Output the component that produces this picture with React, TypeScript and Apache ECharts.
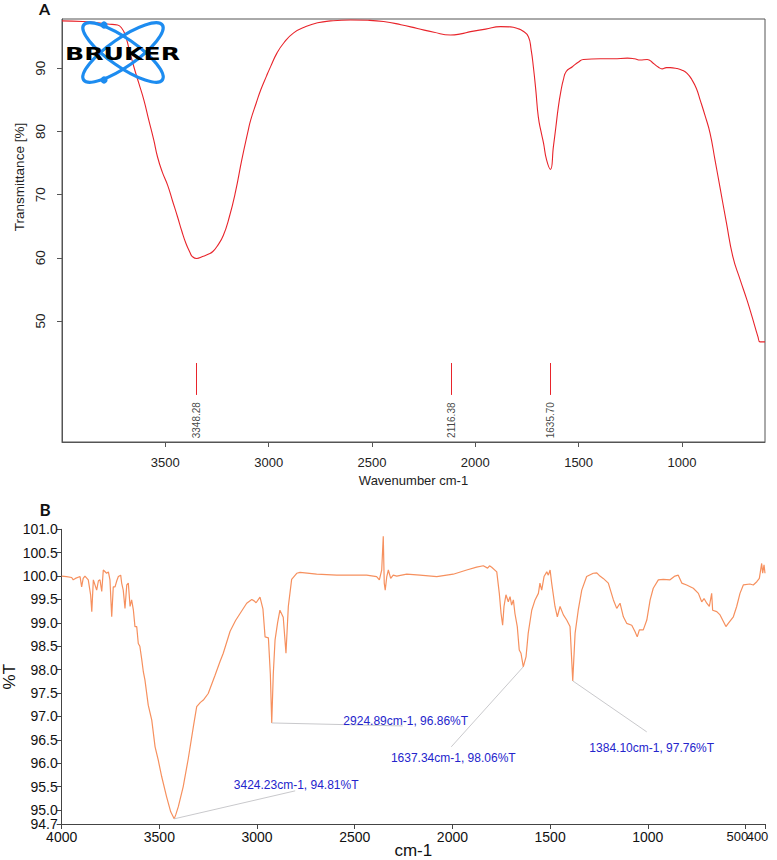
import React, { useEffect, useRef } from 'react';
import * as echarts from 'echarts';

// ---------- Panel A (Bruker spectrum) ----------
const waveA = [4000, 3900, 3828, 3780, 3731, 3710, 3694, 3675, 3652, 3628, 3604, 3580, 3556, 3538, 3515, 3489, 3465, 3441, 3420, 3401, 3380, 3369, 3348, 3320, 3290, 3270, 3250, 3220, 3190, 3160, 3130, 3100, 3087, 3060, 3038, 3010, 2990, 2960, 2927, 2879, 2820, 2763, 2700, 2603, 2520, 2444, 2360, 2280, 2200, 2120, 2070, 2023, 1950, 1878, 1830, 1796, 1770, 1743, 1730, 1719, 1707, 1695, 1682, 1670, 1655, 1636, 1622, 1610, 1598, 1585, 1574, 1560, 1530, 1500, 1477, 1395, 1330, 1264, 1230, 1202, 1168, 1139, 1115, 1096, 1075, 1057, 1030, 999, 975, 951, 930, 912, 888, 864, 840, 816, 785, 753, 720, 685, 660, 632, 622, 598];
const transA = [97.5, 97.4, 97.2, 97.0, 96.85, 96.3, 95.27, 93.0, 90.2, 87.6, 85.0, 81.8, 78.65, 76.0, 73.6, 71.5, 69.0, 66.5, 64.2, 62.35, 60.8, 60.2, 59.9, 60.2, 60.6, 61.0, 61.8, 63.5, 66.5, 70.5, 75.5, 80.0, 81.8, 84.5, 86.6, 88.8, 90.3, 92.4, 94.0, 95.6, 96.6, 97.2, 97.5, 97.65, 97.6, 97.4, 96.9, 96.3, 95.7, 95.27, 95.45, 95.8, 96.2, 96.6, 96.55, 96.3, 95.9, 95.0, 93.0, 90.25, 86.5, 82.3, 80.0, 78.2, 75.5, 74.0, 77.6, 80.7, 83.9, 86.5, 88.15, 89.5, 90.25, 91.0, 91.4, 91.5, 91.5, 91.6, 91.5, 91.3, 91.4, 90.8, 90.2, 89.9, 90.1, 90.1, 90.0, 89.7, 89.2, 88.15, 86.8, 85.0, 82.5, 79.75, 75.5, 71.2, 65.6, 60.1, 56.7, 53.3, 50.6, 47.5, 46.7, 46.7];
const peaksA = [3348.28, 2116.38, 1635.7];
const xTicksA = [3500, 3000, 2500, 2000, 1500, 1000];
const yTicksA = [50, 60, 70, 80, 90];

// ---------- Panel B (%T spectrum) ----------
const waveB = [4000, 3975, 3949, 3941, 3930, 3906, 3898, 3890, 3881, 3864, 3852, 3846, 3838, 3821, 3812, 3804, 3795, 3787, 3770, 3761, 3753, 3744, 3736, 3727, 3718, 3710, 3698, 3693, 3685, 3676, 3667, 3659, 3650, 3642, 3633, 3625, 3616, 3608, 3600, 3590, 3582, 3574, 3557, 3539, 3522, 3506, 3488, 3463, 3442, 3424.23, 3416, 3403, 3378, 3352, 3326, 3309, 3290, 3275, 3250, 3215, 3190, 3173, 3138, 3110, 3087, 3053, 3027, 3015, 3005, 2985, 2970, 2959, 2942, 2932, 2924.89, 2917, 2908, 2895, 2883, 2866, 2852, 2840, 2823, 2797, 2780, 2695, 2592, 2507, 2439, 2388, 2374, 2362, 2354, 2349, 2344, 2336, 2328, 2316, 2303, 2285, 2234, 2166, 2080, 1996, 1927, 1876, 1842, 1820, 1810, 1799, 1773, 1760, 1751, 1743, 1736, 1726, 1714, 1705, 1697, 1688, 1680, 1668, 1658, 1649, 1637.34, 1623, 1612, 1594, 1577, 1560, 1552, 1543, 1531, 1517, 1509, 1500, 1492, 1475, 1463, 1449, 1432, 1415, 1398, 1384.1, 1372, 1356, 1338, 1313, 1279, 1261, 1245, 1228, 1202, 1176, 1159, 1142, 1125, 1108, 1082, 1065, 1054, 1043, 1023, 1005, 988, 972, 946, 921, 886, 861, 844, 826, 801, 767, 741, 724, 712, 698, 685, 673, 668, 647, 630, 613, 600, 588, 562, 545, 528, 511, 477, 460, 442, 429, 417, 412, 405, 400];
const transB = [100.0, 99.99, 99.97, 99.92, 99.95, 99.99, 99.77, 99.95, 100.0, 99.92, 99.6, 99.24, 99.92, 99.7, 99.9, 99.92, 99.67, 100.13, 100.06, 100.09, 99.92, 99.13, 99.77, 99.77, 99.9, 99.99, 100.02, 99.85, 99.7, 99.31, 99.81, 99.85, 99.35, 99.49, 99.27, 98.92, 98.92, 98.56, 98.5, 98.21, 97.95, 97.78, 97.24, 96.92, 96.35, 96.07, 95.71, 95.28, 94.96, 94.81, 94.9, 95.07, 95.5, 96.1, 96.78, 97.21, 97.3, 97.35, 97.49, 97.88, 98.17, 98.35, 98.82, 99.05, 99.2, 99.42, 99.5, 99.47, 99.43, 99.55, 99.3, 98.7, 98.68, 97.9, 96.86, 97.9, 98.63, 99.0, 99.27, 99.12, 98.35, 99.35, 99.93, 100.06, 100.08, 100.04, 100.02, 100.02, 100.02, 99.99, 99.92, 100.13, 100.85, 99.85, 99.7, 99.99, 100.13, 99.95, 100.02, 100.0, 100.04, 100.02, 99.99, 100.04, 100.13, 100.19, 100.22, 100.17, 100.22, 100.19, 100.09, 99.63, 99.2, 98.95, 99.35, 99.6, 99.45, 99.56, 99.38, 99.49, 99.2, 98.92, 98.42, 98.35, 98.06, 98.28, 98.78, 99.27, 99.49, 99.63, 99.85, 99.7, 99.99, 100.09, 100.02, 100.13, 99.85, 99.35, 99.13, 99.35, 99.17, 99.06, 98.92, 97.76, 98.78, 99.27, 99.7, 99.99, 100.06, 100.07, 100.0, 99.95, 99.85, 99.49, 99.31, 99.42, 99.13, 98.99, 98.95, 98.81, 98.7, 98.85, 98.85, 99.06, 99.49, 99.74, 99.92, 99.93, 99.92, 100.0, 100.02, 99.85, 99.81, 99.74, 99.63, 99.45, 99.52, 99.42, 99.35, 99.63, 99.27, 99.24, 99.17, 99.03, 98.92, 98.99, 99.13, 99.35, 99.63, 99.81, 99.83, 99.81, 99.88, 99.95, 100.27, 100.06, 100.24, 100.06];
const xTicksB = [4000, 3500, 3000, 2500, 2000, 1500, 1000, 400];
const xTicksBExtra = [500];
const yTicksB = [94.7, 95.0, 95.5, 96.0, 96.5, 97.0, 97.5, 98.0, 98.5, 99.0, 99.5, 100.0, 100.5, 101.0];
const peakWaveB = [3424.23, 2924.89, 1637.34, 1384.1];
const peakTB = [94.81, 96.86, 98.06, 97.76];

// layout offsets (pixels, relative to each peak) for annotation text centres and leader-line ends
const annTextOffset = [[122, -34], [134, -2], [-70, 91], [79, 67]];
const annLineEnd = [[121, -28], [131, 3], [-72, 80], [74, 51]];

const SANS = '"Liberation Sans", Arial, Helvetica, sans-serif';

export default function App() {
  const ref = useRef<HTMLDivElement>(null);

  useEffect(() => {
    document.body.style.margin = '0';
    if (!ref.current) return;
    const chart = echarts.init(ref.current, null, { renderer: 'svg' });

    const xAxisBBase = {
      gridIndex: 1, type: 'value', inverse: true, min: 400, max: 4000, position: 'bottom',
      splitLine: { show: false },
    };

    const option: any = {
      animation: false,
      backgroundColor: '#ffffff',
      grid: [
        { left: 62, top: 19, width: 703, height: 423, show: true, borderColor: '#555', borderWidth: 1, outerBoundsMode: 'none', containLabel: false },
        { left: 61.7, top: 529.3, width: 703.3, height: 294.7, outerBoundsMode: 'none', containLabel: false },
      ],
      xAxis: [
        {
          gridIndex: 0, type: 'value', inverse: true, min: 598, max: 4000,
          splitLine: { show: false },
          axisLine: { show: true, lineStyle: { color: '#555', width: 1 } },
          axisTick: { show: true, customValues: xTicksA, length: 5, lineStyle: { color: '#555' } },
          axisLabel: {
            customValues: xTicksA, margin: 14, fontSize: 13, color: '#222', fontFamily: SANS,
            formatter: (v: number) => String(v),
          },
          name: 'Wavenumber cm-1', nameLocation: 'middle', nameGap: 32, nameMoveOverlap: false,
          nameTextStyle: { fontSize: 13, color: '#222', fontFamily: SANS },
        },
        {
          ...xAxisBBase,
          axisLine: { show: true, lineStyle: { color: '#444', width: 1 } },
          axisTick: { show: true, customValues: xTicksB, length: 5, lineStyle: { color: '#444' } },
          axisLabel: {
            customValues: xTicksB, margin: 6, fontSize: 14, color: '#111', fontFamily: SANS,
            showMinLabel: true, showMaxLabel: true,
            formatter: (v: number) => (v === 400 ? '{b|400}' : String(v)),
            rich: {
              b: { fontSize: 13, color: '#111', fontFamily: SANS, padding: [0, 15, 0, 0] },
            },
          },
          name: 'cm-1', nameLocation: 'middle', nameGap: 18, nameMoveOverlap: false,
          nameTextStyle: { fontSize: 17, color: '#111', fontFamily: SANS },
        },
        {
          ...xAxisBBase,
          axisLine: { show: false },
          axisTick: { show: true, customValues: xTicksBExtra, length: 5, lineStyle: { color: '#444' } },
          axisLabel: {
            customValues: xTicksBExtra, margin: 6, fontSize: 14, color: '#111', fontFamily: SANS,
            formatter: (v: number) => `{a|${v}}`,
            rich: {
              a: { fontSize: 13, color: '#111', fontFamily: SANS, padding: [0, 16, 0, 0] },
            },
          },
        },
      ],
      yAxis: [
        {
          gridIndex: 0, type: 'value', min: 30.85, max: 97.8,
          splitLine: { show: false },
          axisLine: { show: true, lineStyle: { color: '#555', width: 1 } },
          axisTick: { show: true, customValues: yTicksA, length: 5, lineStyle: { color: '#555' } },
          axisLabel: { customValues: yTicksA, rotate: 90, margin: 15, fontSize: 13.5, color: '#222', fontFamily: SANS },
        },
        {
          gridIndex: 1, type: 'value', min: 94.7, max: 101,
          splitLine: { show: false },
          axisLine: { show: true, lineStyle: { color: '#444', width: 1 } },
          axisTick: { show: true, customValues: yTicksB, length: 5, lineStyle: { color: '#444' } },
          axisLabel: {
            customValues: yTicksB, margin: 4, fontSize: 14, color: '#111', fontFamily: SANS,
            formatter: (v: number) => v.toFixed(1),
          },
          name: '%T', nameLocation: 'middle', nameGap: 44, nameRotate: 90, nameMoveOverlap: false,
          nameTextStyle: { fontSize: 17, color: '#111', fontFamily: SANS },
        },
      ],
      series: [
        {
          type: 'line', xAxisIndex: 0, yAxisIndex: 0,
          data: waveA.map((w, i) => [w, transA[i]]),
          showSymbol: false, smooth: 0.5,
          lineStyle: { color: '#e8242b', width: 1.1 }, silent: true,
        },
        {
          type: 'scatter', xAxisIndex: 0, yAxisIndex: 0,
          data: peaksA.map((w) => [w, 34.3]),
          symbolSize: 1, itemStyle: { color: 'rgba(0,0,0,0)' }, silent: true,
          label: {
            show: true, position: 'inside', rotate: 90, fontSize: 10, color: '#111', fontFamily: SANS,
            formatter: (p: any) => p.value[0].toFixed(2),
          },
          markLine: {
            silent: true, symbol: ['none', 'none'], label: { show: false },
            lineStyle: { color: '#e8242b', width: 1, type: 'solid' },
            data: peaksA.map((w) => [{ coord: [w, 43.35] }, { coord: [w, 38.3] }]),
          },
        },
        {
          type: 'line', xAxisIndex: 1, yAxisIndex: 1,
          data: waveB.map((w, i) => [w, transB[i]]),
          showSymbol: false,
          lineStyle: { color: '#f6905e', width: 1.2 }, silent: true,
        },
      ],
    };
    chart.setOption(option);

    const baseGraphic: any[] = [
      { type: 'text', x: 44.5, y: 8, style: { text: 'A', fontSize: 16, fontWeight: 'bold', fontFamily: 'Lato, "Open Sans", sans-serif', fill: '#111', textAlign: 'center', textVerticalAlign: 'middle' } },
      { type: 'text', x: 45, y: 509, style: { text: 'B', fontSize: 17, fontWeight: 'bold', fontFamily: 'Lato, "Open Sans", sans-serif', fill: '#111', textAlign: 'center', textVerticalAlign: 'middle' } },
      { type: 'text', x: 19, y: 177, rotation: Math.PI / 2, style: { text: 'Transmittance [%]', fontSize: 13.5, fontFamily: SANS, fill: '#222', textAlign: 'center', textVerticalAlign: 'middle' } },
      // Bruker logo
      { type: 'ellipse', x: 123, y: 52.5, rotation: 0.61, z: 100, shape: { cx: 0, cy: 0, rx: 48, ry: 14 }, style: { fill: 'none', stroke: '#1d8cf0', lineWidth: 3.2 } },
      { type: 'ellipse', x: 123, y: 52.5, rotation: -0.61, z: 100, shape: { cx: 0, cy: 0, rx: 48, ry: 14 }, style: { fill: 'none', stroke: '#1d8cf0', lineWidth: 3.2 } },
      { type: 'circle', z: 101, shape: { cx: 104, cy: 25, r: 3.6 }, style: { fill: '#1d8cf0' } },
      { type: 'circle', z: 101, shape: { cx: 104, cy: 80, r: 3.6 }, style: { fill: '#1d8cf0' } },
      { type: 'text', x: 65, y: 54, scaleX: 1.4, z: 102, style: { text: 'BRUKER', fontSize: 18, fontWeight: 900, fontFamily: '"DejaVu Sans", sans-serif', fill: '#000', textAlign: 'left', textVerticalAlign: 'middle' } },
    ];

    const ann: any[] = [];
    peakWaveB.forEach((w, i) => {
      const p = chart.convertToPixel({ seriesIndex: 2 }, [w, peakTB[i]]) as number[];
      const [px, py] = p;
      ann.push({
        type: 'line', z: 50,
        shape: { x1: px, y1: py, x2: px + annLineEnd[i][0], y2: py + annLineEnd[i][1] },
        style: { stroke: '#c9c9cc', lineWidth: 1 },
      });
      ann.push({
        type: 'text', z: 60, x: px + annTextOffset[i][0], y: py + annTextOffset[i][1],
        style: {
          text: `${w.toFixed(2)}cm-1, ${peakTB[i].toFixed(2)}%T`,
          fontSize: 12, fontFamily: SANS, fill: '#2424cc', textAlign: 'center', textVerticalAlign: 'middle',
        },
      });
    });

    chart.setOption({ graphic: [...baseGraphic, ...ann] });

    return () => chart.dispose();
  }, []);

  return <div ref={ref} style={{ width: 777, height: 860 }} />;
}
